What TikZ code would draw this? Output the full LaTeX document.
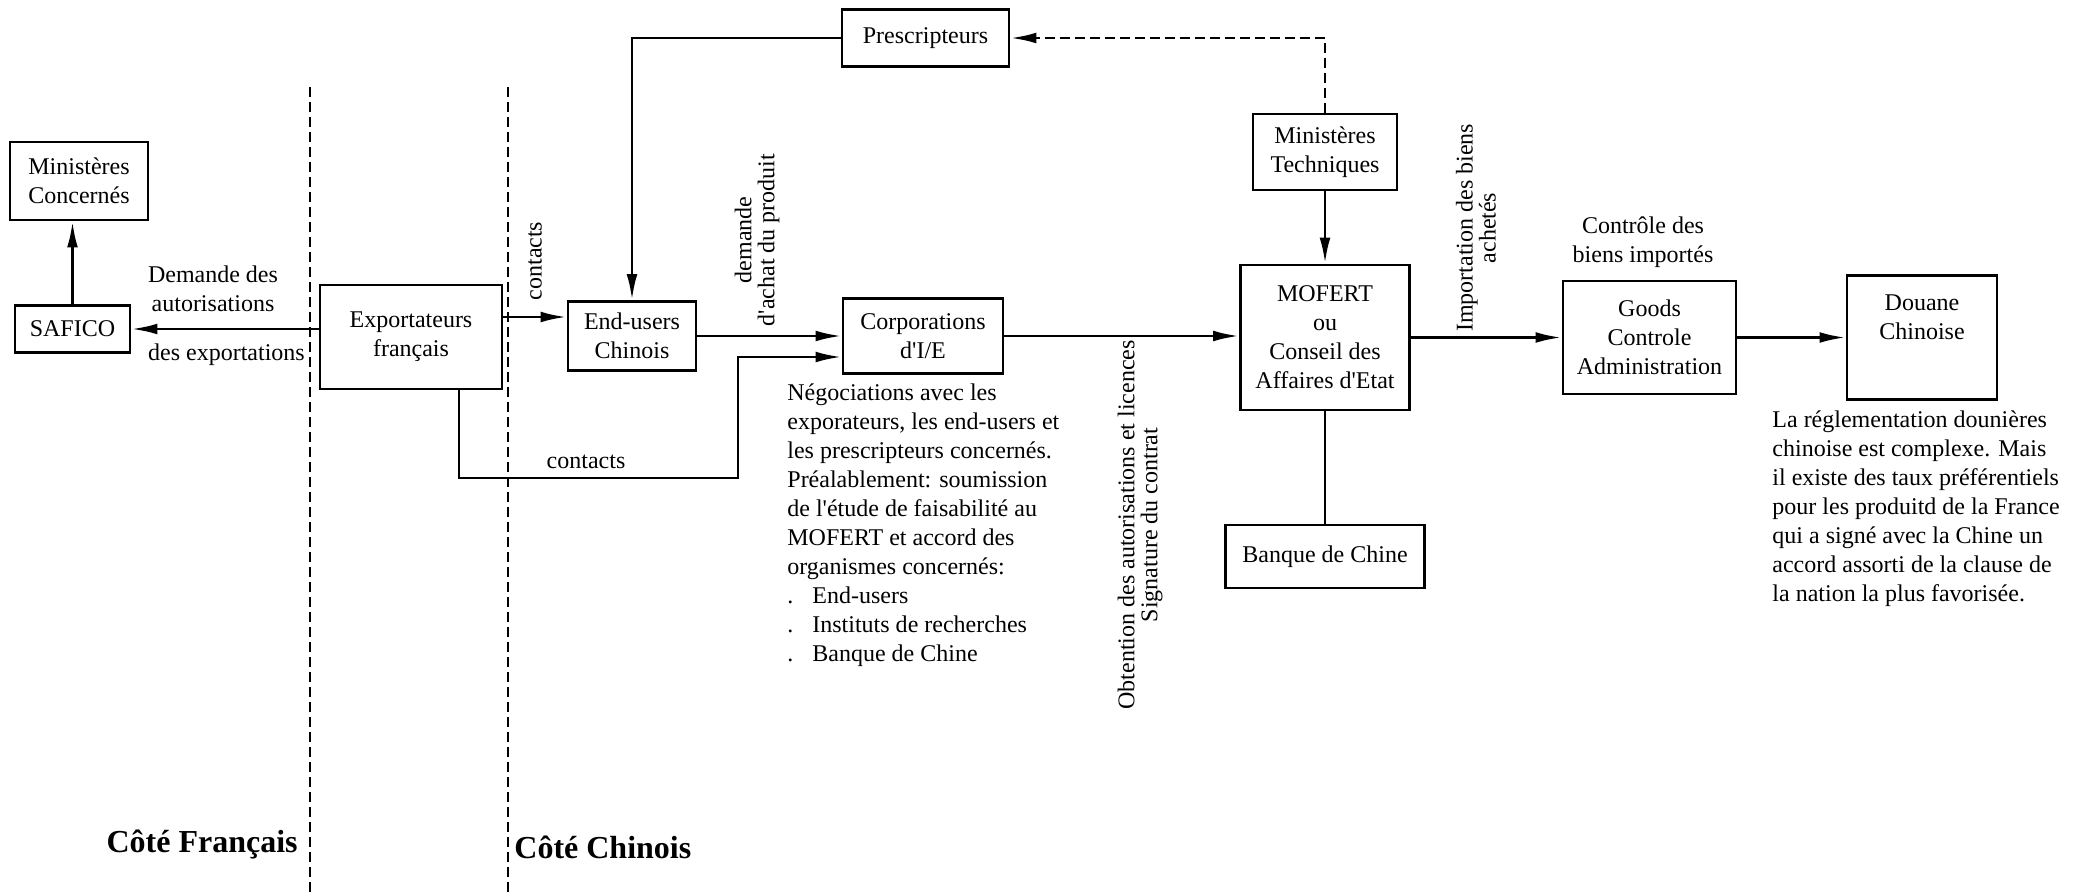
\documentclass[tikz,border=0pt]{standalone}
\usepackage{fontspec}
\setmainfont{Liberation Serif}
\usetikzlibrary{arrows.meta}

\begin{document}
\begin{tikzpicture}[x=0.5pt, y=-0.5pt, font=\fontsize{12}{14.5}\selectfont]
% Définition des styles
\tikzset{
  bloc/.style={rectangle, draw, line width=1.4pt, align=center, inner sep=3pt},
  fleche/.style={-{Latex[length=13pt,width=5.4pt]}, line width=1.4pt},
  lien/.style={line width=1.4pt},
  pointille/.style={line width=1.3pt, dash pattern=on 5pt off 2.5pt},
  fleche_pointille/.style={fleche, dash pattern=on 5pt off 2.5pt},
  note/.style={align=left, inner sep=0pt, anchor=north west},
  etiquette/.style={align=center, inner sep=0pt},
  vertical/.style={etiquette, rotate=90, font=\fontsize{12}{11.5}\selectfont},
  cote/.style={inner sep=0pt, font=\fontsize{16}{18}\selectfont\bfseries}
}
\newcommand{\apos}{\textquotesingle}
\useasboundingbox (0,0) rectangle (2080,893);

% Séparations côté français / côté chinois
\coordinate (sep_fr_haut) at (310,87);
\coordinate (sep_fr_bas) at (310,893);
\coordinate (sep_cn_haut) at (508,87);
\coordinate (sep_cn_bas) at (508,893);
\draw[pointille] (sep_fr_haut) -- (sep_fr_bas);
\draw[pointille] (sep_cn_haut) -- (sep_cn_bas);

% Côté français
\node[bloc, minimum width=69pt, minimum height=39pt] (min_concernes) at (79,181) {Ministères\\Concernés};
\node[bloc, minimum width=57.5pt, minimum height=23.5pt] (safico) at (72.5,329) {SAFICO};
\node[bloc, minimum width=91pt, minimum height=52pt] (exportateurs) at (411,337) {Exportateurs\\français};

% Côté chinois
\node[bloc, minimum width=64pt, minimum height=34.5pt] (end_users) at (632,336) {End-users\\Chinois};
\node[bloc, minimum width=83.5pt, minimum height=28.5pt] (prescripteurs) at (925.5,38) {Prescripteurs};
\node[bloc, minimum width=80pt, minimum height=37.5pt] (corporations) at (923,336) {Corporations\\d\apos I/E};
\node[bloc, minimum width=72pt, minimum height=38pt] (min_techniques) at (1325,152) {Ministères\\Techniques};
\node[bloc, minimum width=84.5pt, minimum height=72.5pt] (mofert) at (1325,337.5) {MOFERT\\ou\\Conseil des\\Affaires d\apos Etat};
\node[bloc, minimum width=99.5pt, minimum height=31.5pt] (banque) at (1325,556.5) {Banque de Chine};
\node[bloc, minimum width=86.5pt, minimum height=56.5pt] (goods) at (1649.5,337.5) {Goods\\Controle\\Administration};
\node[bloc, minimum width=75pt, minimum height=62pt] (douane) at (1922,337.5) {Douane\\Chinoise\\[6pt]};

% Textes
\node[etiquette] (demande_autorisations) at (213,289) {Demande des\\autorisations};
\node[etiquette] (des_exportations) at (226.5,355) {des exportations};
\node[vertical] (contacts_haut) at (535,261) {contacts};
\node[etiquette] (contacts_bas) at (586,462) {contacts};
\node[vertical] (demande_achat) at (757,240) {demande\\d\apos achat du produit};
\node[note] (negociations) at (787,383) {Négociations avec les\\
exporateurs, les end-users et\\
les prescripteurs concernés.\\
Préalablement: soumission\\
de l\apos étude de faisabilité au\\
MOFERT et accord des\\
organismes concernés:\\
\makebox[12.5pt][l]{.}End-users\\
\makebox[12.5pt][l]{.}Instituts de recherches\\
\makebox[12.5pt][l]{.}Banque de Chine};
\node[vertical] (obtention) at (1140,525) {Obtention des autorisations et licences\\Signature du contrat};
\node[vertical] (importation) at (1476,228) {Importation des biens\\achetés};
\node[etiquette] (controle) at (1643,242) {Contrôle des\\biens importés};
\node[note] (reglementation) at (1772,410) {La réglementation dounières\\
chinoise est complexe. Mais\\
il existe des taux préférentiels\\
pour les produitd de la France\\
qui a signé avec la Chine un\\
accord assorti de la clause de\\
la nation la plus favorisée.};
\node[cote, anchor=east] (cote_francais) at (298,845) {Côté Français};
\node[cote, anchor=west] (cote_chinois) at (514,847) {Côté Chinois};

% Relations
\coordinate (coude_contacts) at (738,478);
\draw[fleche] (safico.north) -- (safico.north |- min_concernes.south);
\draw[fleche] (safico.east -| exportateurs.west) -- (safico.east);
\draw[fleche] ([yshift=10pt]exportateurs.east) -- ([yshift=10pt]exportateurs.east -| end_users.west);
\draw[fleche] ([xshift=24pt]exportateurs.south) |- (coude_contacts) |- ([yshift=-10.5pt]corporations.west);
\draw[fleche] (prescripteurs.west) -| (end_users.north);
\draw[fleche] (end_users.east) -- (end_users.east -| corporations.west);
\draw[fleche] (corporations.east) -- (corporations.east -| mofert.west);
\draw[fleche_pointille] (min_techniques.north) |- (prescripteurs.east);
\draw[fleche] (min_techniques.south) -- (mofert.north);
\draw[lien] (mofert.south) -- (banque.north);
\draw[fleche] (mofert.east) -- (mofert.east -| goods.west);
\draw[fleche] (goods.east) -- (goods.east -| douane.west);

\end{tikzpicture}
\end{document}
